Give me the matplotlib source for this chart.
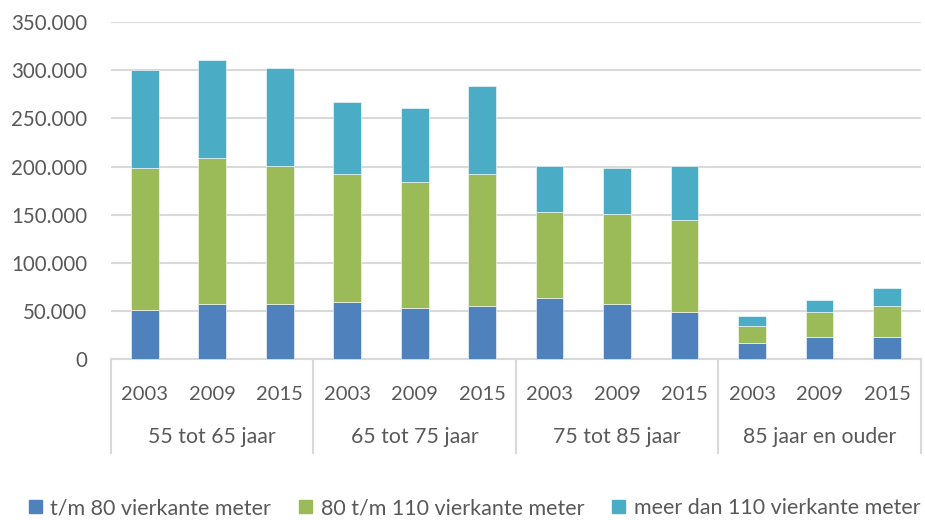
import numpy as np
import matplotlib.pyplot as plt
from matplotlib.ticker import FuncFormatter
from matplotlib.patches import Patch
import matplotlib.transforms as mtransforms

plt.rcParams['font.family'] = ['Lato', 'DejaVu Sans']

# gegevens
groepen = ['55 tot 65 jaar', '65 tot 75 jaar', '75 tot 85 jaar', '85 jaar en ouder']
jaren = ['2003', '2009', '2015']
tm80 = [50700, 57000, 57000, 59000, 52800, 55000, 63300, 57000, 48600, 17300, 23600, 23600]
van80tm110 = [147900, 152000, 143700, 133400, 131200, 137400, 89400, 93600, 95800, 17100, 25000, 31400]
meer110 = [101600, 101600, 102000, 74600, 77000, 91600, 48300, 48000, 56600, 10100, 12600, 18700]

kleuren = ['#4F81BD', '#9BBB59', '#4BACC6']
labels = ['t/m 80 vierkante meter', '80 t/m 110 vierkante meter', 'meer dan 110 vierkante meter']
tekstkleur = '#595959'
lijnkleur = '#D9D9D9'

fig = plt.figure(figsize=(9.25, 5.2), dpi=100)
ax = fig.add_axes([0.12, 0.309, 0.8755, 0.6486])

x = np.arange(len(tm80))
b1 = np.array(tm80)
b2 = b1 + np.array(van80tm110)
ax.bar(x, tm80, width=0.41, color=kleuren[0], edgecolor='white', linewidth=0.4, zorder=3)
ax.bar(x, van80tm110, width=0.41, bottom=b1, color=kleuren[1], edgecolor='white', linewidth=0.4, zorder=3)
ax.bar(x, meer110, width=0.41, bottom=b2, color=kleuren[2], edgecolor='white', linewidth=0.4, zorder=3)

ax.set_xlim(-0.5, len(x) - 0.5)
ax.set_ylim(0, 350000)
ax.set_yticks(np.arange(0, 350001, 50000))
ax.yaxis.set_major_formatter(FuncFormatter(lambda v, p: f'{int(v):,}'.replace(',', '.')))
ax.grid(axis='y', color=lijnkleur, linewidth=1.5, zorder=0)
for s in ['top', 'right', 'left']:
    ax.spines[s].set_visible(False)
ax.spines['bottom'].set_color(lijnkleur)
ax.spines['bottom'].set_linewidth(1.5)
ax.tick_params(axis='y', length=0, pad=17, labelsize=14.8, labelcolor=tekstkleur)

# jaren als ticklabels
ax.set_xticks(x)
ax.set_xticklabels(jaren * len(groepen))
ax.tick_params(axis='x', length=0, pad=19, labelsize=14.5, labelcolor=tekstkleur)

# groepslabels en scheidingslijnen
trans = mtransforms.blended_transform_factory(ax.transData, ax.transAxes)
for i, g in enumerate(groepen):
    ax.text(i * 3 + 1, -0.23, g, transform=trans, ha='center', va='center',
            fontsize=15.3, color=tekstkleur)
for i in range(len(groepen) + 1):
    ax.plot([i * 3 - 0.5, i * 3 - 0.5], [0, -0.278], transform=trans, color=lijnkleur,
            linewidth=1.5, clip_on=False)

handles = [Patch(color=c, label=l) for c, l in zip(kleuren, labels)]
fig.legend(handles=handles, loc='center', bbox_to_anchor=(0.513, 0.023), ncol=3, frameon=False,
           fontsize=15.5, labelcolor=tekstkleur, handlelength=0.6, handleheight=0.6,
           handletextpad=0.4, columnspacing=1.3)

fig.savefig('out.png', dpi=100)
